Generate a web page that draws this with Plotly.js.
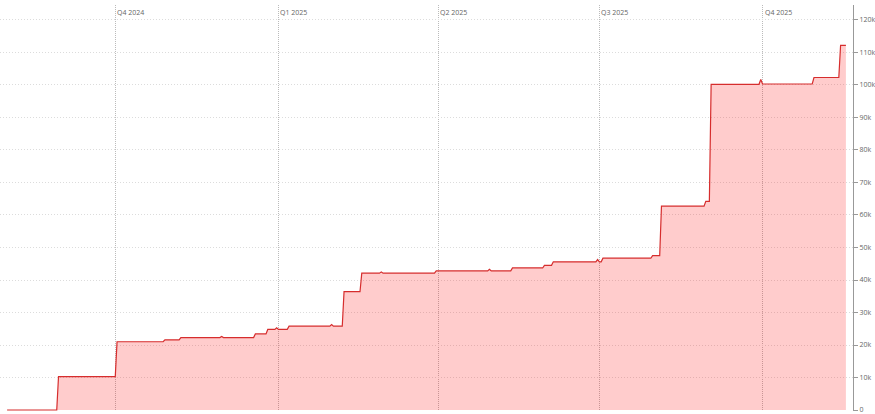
<!DOCTYPE html>
<html>
<head>
<meta charset="utf-8">
<script src="https://cdn.plot.ly/plotly-3.0.1.min.js"></script>
<style>html,body{margin:0;padding:0;background:#fff;}#chart{width:875px;height:414px;}</style>
</head>
<body>
<div id="chart"></div>
<script>
// Cumulative value over time (step-like series)
const dates = [
  "2024-08-01","2024-08-29","2024-08-30","2024-10-01","2024-10-02","2024-10-28","2024-10-29",
  "2024-11-06","2024-11-07","2024-11-29","2024-11-30","2024-12-01","2024-12-18","2024-12-19",
  "2024-12-25","2024-12-26","2024-12-30","2024-12-31","2025-01-01","2025-01-06","2025-01-07",
  "2025-01-30","2025-01-31","2025-02-01","2025-02-06","2025-02-07","2025-02-16","2025-02-17",
  "2025-02-27","2025-02-28","2025-03-01","2025-03-30","2025-03-31","2025-04-29","2025-04-30",
  "2025-05-01","2025-05-12","2025-05-13","2025-05-30","2025-05-31","2025-06-04","2025-06-05",
  "2025-06-29","2025-06-30","2025-07-01","2025-07-02","2025-07-03","2025-07-30","2025-07-31",
  "2025-08-04","2025-08-05","2025-08-29","2025-08-30","2025-09-01","2025-09-02","2025-09-29",
  "2025-09-30","2025-10-01","2025-10-29","2025-10-30","2025-11-13","2025-11-14","2025-11-17"
];
const values = [
  0,0,10300,10300,21000,21000,21600,
  21600,22300,22300,22600,22300,22300,23400,
  23400,24800,24800,25300,24800,24800,25800,
  25800,26300,25800,25800,36400,36400,42100,
  42100,42500,42100,42100,42800,42800,43300,
  42800,42800,43700,43700,44500,44500,45600,
  45600,46300,45600,45600,46700,46700,47500,
  47500,62700,62700,64200,64200,100200,100200,
  101700,100300,100300,102300,102300,112200,112200
];
const quarterDates = ["2024-10-01","2025-01-01","2025-04-01","2025-07-01","2025-10-01"];
const quarterLabels = ["Q4 2024","Q1 2025","Q2 2025","Q3 2025","Q4 2025"];
const yTickVals = [0,10000,20000,30000,40000,50000,60000,70000,80000,90000,100000,110000,120000];
const yTickText = ["0","10k","20k","30k","40k","50k","60k","70k","80k","90k","100k","110k","120k"];

const trace = {
  x: dates, y: values, type: "scatter", mode: "lines",
  line: {color: "rgb(214,45,45)", width: 1.2, shape: "linear"},
  fill: "tozeroy", fillcolor: "rgba(255,0,0,0.2)",
  hoverinfo: "skip"
};

const annotations = quarterDates.map((d, i) => ({
  x: d, xref: "x", y: 1, yref: "paper", yanchor: "top", xanchor: "left",
  xshift: 0, yshift: -1, showarrow: false, text: quarterLabels[i],
  font: {size: 7, color: "#666", family: "Open Sans, Liberation Sans, sans-serif"}
}));

const layout = {
  width: 875, height: 414,
  margin: {l: 0, r: 22, t: 5, b: 3},
  paper_bgcolor: "#fff", plot_bgcolor: "#fff",
  showlegend: false,
  font: {family: "Open Sans, Liberation Sans, sans-serif", size: 7, color: "#666"},
  xaxis: {
    type: "date",
    range: ["2024-07-28", "2025-11-21"],
    tickvals: quarterDates,
    showticklabels: false,
    showgrid: true, gridcolor: "#bbb", griddash: "1px,1px", gridwidth: 1,
    zeroline: false, showline: false, ticks: ""
  },
  yaxis: {
    side: "right",
    range: [-300, 124600],
    tickvals: yTickVals, ticktext: yTickText,
    ticklabeloverflow: "allow",
    showgrid: true, gridcolor: "#dcdcdc", griddash: "1px,2px", gridwidth: 1,
    zeroline: false, showline: true, linecolor: "#999", linewidth: 1,
    ticks: "outside", ticklen: 4, tickcolor: "#999",
    tickfont: {size: 7, color: "#666"}
  },
  annotations: annotations
};

Plotly.newPlot("chart", [trace], layout, {staticPlot: true, displayModeBar: false});
</script>
</body>
</html>
